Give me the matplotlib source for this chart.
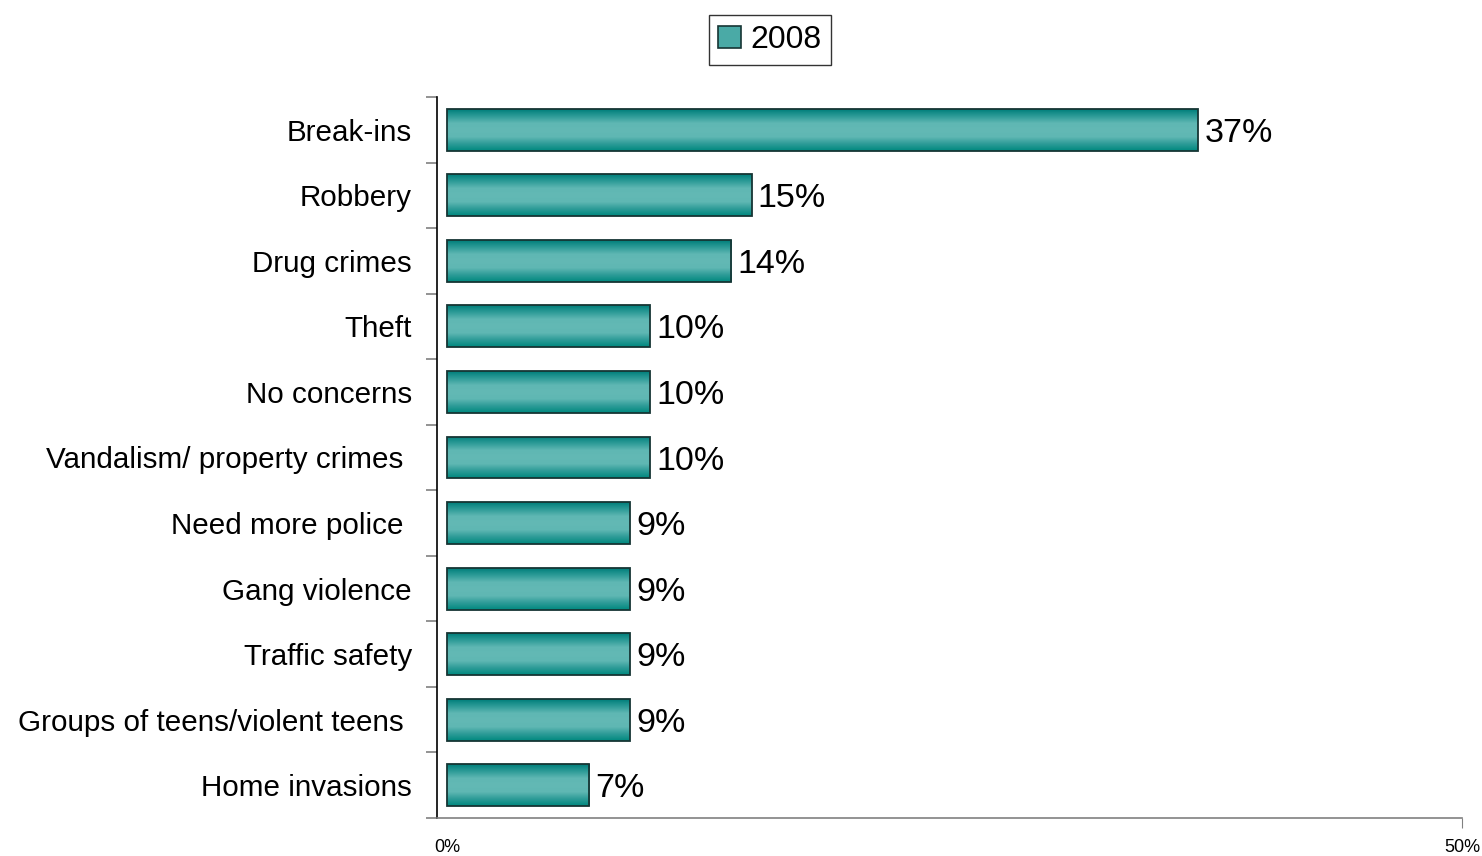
import numpy as np
import matplotlib.pyplot as plt
from matplotlib.colors import LinearSegmentedColormap
from matplotlib.patches import Patch

plt.rcParams['font.family'] = ['Liberation Sans', 'DejaVu Sans']

categories = ['Break-ins', 'Robbery', 'Drug crimes', 'Theft', 'No concerns',
              'Vandalism/ property crimes ', 'Need more police ', 'Gang violence',
              'Traffic safety', 'Groups of teens/violent teens ', 'Home invasions']
values = [37, 15, 14, 10, 10, 10, 9, 9, 9, 9, 7]
series_name = '2008'

fig = plt.figure(figsize=(14.82, 8.56), dpi=100)
ax = fig.add_axes([437 / 1482, 38 / 856, 1025 / 1482, 721 / 856])

n = len(categories)
ypos = np.arange(n)[::-1]
bar_h = 0.64

bars = ax.barh(ypos, values, height=bar_h, color='#3fa5a1',
               edgecolor='#163534', linewidth=1.3, zorder=3)

# cylinder-like shading: dark teal at the edges, light in the middle
shade = LinearSegmentedColormap.from_list(
    'shade', ['#007f7b', '#2e9c98', '#5fb7b3', '#63b9b5', '#5fb7b3', '#2e9c98', '#00897f'])
grad = np.linspace(0, 1, 64).reshape(-1, 1)
for b in bars:
    x0, y0 = b.get_x(), b.get_y()
    im = ax.imshow(grad, cmap=shade, aspect='auto', interpolation='bilinear',
                   extent=(x0, x0 + b.get_width(), y0, y0 + b.get_height()),
                   zorder=3.5)
    im.set_clip_path(b)
    b.set_facecolor('none')
    b.set_zorder(4)

for y, v in zip(ypos, values):
    ax.text(v + 0.3, y, f'{v}%', va='center_baseline', ha='left', fontsize=24.5, zorder=5)

ax.set_xlim(-0.5, 50)
ax.set_ylim(-0.5, n - 0.5)

ax.set_xticks([0, 50])
ax.set_xticklabels(['0%', '50%'], fontsize=13)
ax.tick_params(axis='x', direction='out', length=7, color='#808080', pad=8)
ax.xaxis.get_major_ticks()[0].tick1line.set_visible(False)

ax.set_yticks(ypos)
ax.set_yticklabels(categories, fontsize=21.3)
ax.tick_params(axis='y', which='major', length=0, pad=18)
ax.set_yticks(np.arange(n + 1) - 0.5, minor=True)
ax.tick_params(axis='y', which='minor', direction='out', length=8, color='#808080', width=1.2)

ax.spines['top'].set_visible(False)
ax.spines['right'].set_visible(False)
ax.spines['left'].set_color('black')
ax.spines['left'].set_linewidth(1.2)
ax.spines['bottom'].set_color('#808080')
ax.spines['bottom'].set_linewidth(1.2)

handle = Patch(facecolor='#4aaaa6', edgecolor='#163534', linewidth=1.2)
fig.legend([handle], [series_name], loc='center', bbox_to_anchor=(770 / 1482, 1 - 40 / 856),
           fontsize=23, frameon=True, fancybox=False, edgecolor='black',
           handlelength=0.7, handleheight=0.7, handletextpad=0.3, borderpad=0.3)

fig.savefig('out.png', dpi=100)
